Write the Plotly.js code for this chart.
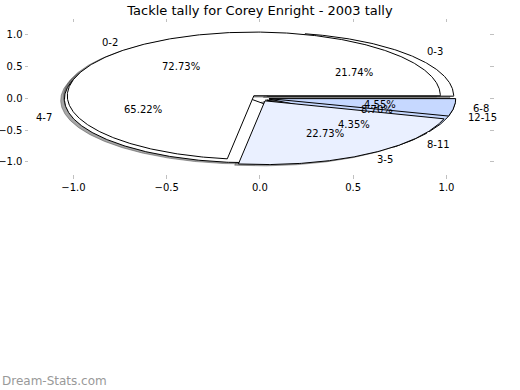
<!DOCTYPE html>
<html>
<head>
<meta charset="utf-8">
<script src="https://cdn.plot.ly/plotly-3.0.1.min.js"></script>
<style>html,body{margin:0;padding:0;background:#fff;}#chart{width:520px;height:390px;}</style>
</head>
<body>
<div id="chart"></div>
<script>
// ---- data ----
const chartTitle = 'Tackle tally for Corey Enright - 2003 tally';
const watermark = 'Dream-Stats.com';
const labelsA = ['0-2', '3-5', '6-8'];
const valuesA = [16, 5, 1];
const labelsB = ['0-3', '4-7', '8-11', '12-15'];
const valuesB = [5, 15, 1, 2];
const tickVals = [-1, -0.5, 0, 0.5, 1];

// ---- styles ----
const colorsA = ['#ffffff', '#eaf0ff', '#c6d8ff'];
const colorsB = ['#ffffff', '#ffffff', '#eaf0ff', '#c6d8ff'];
const explode = 0.05;
const shadowOff = -0.02;
const FONT = 'DejaVu Sans, Verdana, sans-serif';

function pieGeom(values) {
  const tot = values.reduce((a, b) => a + b, 0);
  let acc = 0;
  return values.map(v => {
    const t1 = acc / tot * 2 * Math.PI;
    acc += v;
    const t2 = acc / tot * 2 * Math.PI;
    const tm = (t1 + t2) / 2;
    return {t1, t2, tm, frac: v / tot,
            cx: explode * Math.cos(tm), cy: explode * Math.sin(tm)};
  });
}
function wedgePath(g, dx, dy) {
  const xs = [g.cx + dx], ys = [g.cy + dy];
  const n = Math.max(4, Math.ceil((g.t2 - g.t1) / (Math.PI / 360)));
  for (let i = 0; i <= n; i++) {
    const t = g.t1 + (g.t2 - g.t1) * i / n;
    xs.push(g.cx + dx + Math.cos(t));
    ys.push(g.cy + dy + Math.sin(t));
  }
  xs.push(g.cx + dx); ys.push(g.cy + dy);
  return {xs, ys};
}

const gA = pieGeom(valuesA);
const gB = pieGeom(valuesB);
const traces = [];
// shadows (drawn beneath all wedges)
[gB, gA].forEach(G => G.forEach(g => {
  const p = wedgePath(g, shadowOff, shadowOff);
  traces.push({type: 'scatter', mode: 'lines', x: p.xs, y: p.ys, fill: 'toself',
    fillcolor: 'rgba(77,77,77,0.5)', line: {color: 'rgba(77,77,77,0.5)', width: 1},
    hoverinfo: 'skip', showlegend: false});
}));
// pie B then pie A on top
[[gB, colorsB], [gA, colorsA]].forEach(([G, C]) => G.forEach((g, i) => {
  const p = wedgePath(g, 0, 0);
  traces.push({type: 'scatter', mode: 'lines', x: p.xs, y: p.ys, fill: 'toself',
    fillcolor: C[i], line: {color: '#000000', width: 1},
    hoverinfo: 'skip', showlegend: false});
}));

const annotations = [];
[[gB, labelsB], [gA, labelsA]].forEach(([G, L]) => G.forEach((g, i) => {
  const lx = g.cx + 1.1 * Math.cos(g.tm), ly = g.cy + 1.1 * Math.sin(g.tm);
  annotations.push({x: lx, y: ly, xref: 'x', yref: 'y', text: L[i], showarrow: false,
    xanchor: lx < 0 ? 'right' : 'left', yanchor: 'middle', borderpad: 0,
    font: {family: FONT, size: 10, color: '#000'}});
  const px = g.cx + 0.6 * Math.cos(g.tm), py = g.cy + 0.6 * Math.sin(g.tm);
  annotations.push({x: px, y: py, xref: 'x', yref: 'y', text: (g.frac * 100).toFixed(2) + '%',
    showarrow: false, xanchor: 'center', yanchor: 'middle', borderpad: 0,
    font: {family: FONT, size: 10, color: '#000'}});
}));
annotations.push({xref: 'paper', yref: 'paper', x: -0.062, y: -1.37, xanchor: 'left', yanchor: 'middle',
  text: watermark, showarrow: false, font: {family: FONT, size: 12, color: '#999999'}});

const axisCommon = {showgrid: false, zeroline: false, showline: false, ticks: 'outside',
  ticklen: 3.5, tickwidth: 1, tickcolor: '#c0c0c0', mirror: 'ticks', tickvals: tickVals,
  tickformat: '.1f', tickfont: {family: FONT, size: 10, color: '#000'}, fixedrange: true};

const layout = {
  width: 520, height: 390,
  margin: {l: 28.6, r: 30.6, t: 23.1, b: 215.5, pad: 0},
  paper_bgcolor: '#fff', plot_bgcolor: 'rgba(0,0,0,0)',
  showlegend: false, hovermode: false,
  title: {text: chartTitle, x: 0.5, xref: 'container', y: 0.974, yref: 'container',
    yanchor: 'middle', xanchor: 'center', font: {family: FONT, size: 13, color: '#000'}},
  xaxis: Object.assign({}, axisCommon, {range: [-1.238, 1.228]}),
  yaxis: Object.assign({}, axisCommon, {range: [-1.19, 1.18]}),
  annotations: annotations
};
Plotly.newPlot('chart', traces, layout, {staticPlot: true, displayModeBar: false});
</script>
</body>
</html>
